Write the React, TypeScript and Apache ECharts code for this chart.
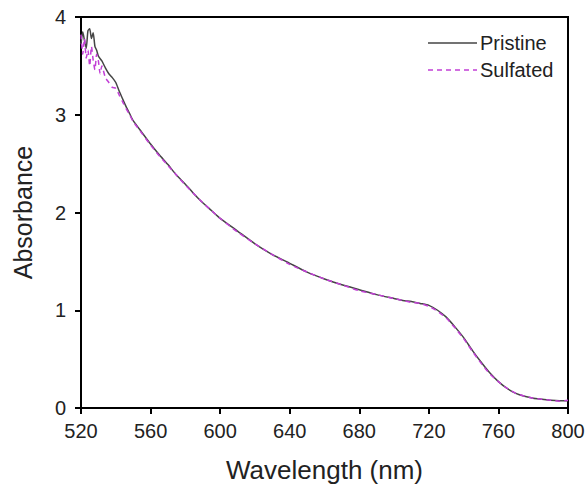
import React, { useEffect, useRef } from "react";
import * as echarts from "echarts";

const xTicks = [520, 560, 600, 640, 680, 720, 760, 800];
const yTicks = [0, 1, 2, 3, 4];

const pristineX = [520, 521, 522, 523, 524, 525, 526, 527, 528, 529, 530, 532, 534, 536, 538, 540, 542, 544, 546, 548, 550, 555, 560, 565, 570, 575, 580, 585, 590, 595, 600, 610, 620, 630, 640, 650, 660, 670, 680, 690, 700, 705, 710, 715, 720, 725, 730, 735, 740, 745, 750, 755, 760, 765, 770, 775, 780, 785, 790, 795, 800];
const pristineY = [3.72, 3.85, 3.76, 3.68, 3.86, 3.88, 3.78, 3.84, 3.7, 3.66, 3.6, 3.55, 3.48, 3.42, 3.38, 3.33, 3.24, 3.16, 3.08, 3.01, 2.94, 2.82, 2.7, 2.59, 2.49, 2.38, 2.29, 2.19, 2.1, 2.02, 1.94, 1.81, 1.68, 1.57, 1.48, 1.39, 1.32, 1.26, 1.21, 1.16, 1.12, 1.1, 1.09, 1.07, 1.05, 1.0, 0.93, 0.83, 0.72, 0.59, 0.47, 0.36, 0.27, 0.2, 0.15, 0.12, 0.1, 0.09, 0.08, 0.075, 0.075];

const sulfatedX = [520, 521, 522, 523, 524, 525, 526, 527, 528, 529, 530, 531, 532, 534, 536, 538, 540, 542, 544, 546, 548, 550, 555, 560, 565, 570, 575, 580, 585, 590, 595, 600, 610, 620, 630, 640, 650, 660, 670, 680, 690, 700, 705, 710, 715, 720, 725, 730, 735, 740, 745, 750, 755, 760, 765, 770, 775, 780, 785, 790, 795, 800];
const sulfatedY = [3.82, 3.62, 3.78, 3.58, 3.66, 3.5, 3.7, 3.56, 3.46, 3.62, 3.55, 3.42, 3.5, 3.38, 3.33, 3.28, 3.27, 3.2, 3.13, 3.06, 3.0, 2.93, 2.81, 2.69, 2.58, 2.48, 2.38, 2.28, 2.19, 2.1, 2.02, 1.94, 1.8, 1.68, 1.57, 1.47, 1.39, 1.32, 1.26, 1.2, 1.16, 1.12, 1.1, 1.08, 1.07, 1.04, 0.99, 0.92, 0.82, 0.71, 0.58, 0.46, 0.35, 0.27, 0.2, 0.15, 0.12, 0.1, 0.09, 0.08, 0.07, 0.08];

const seriesNames = ["Pristine", "Sulfated"];
const seriesColors = ["#454545", "#c23fd6"];

export default function App() {
  const ref = useRef<HTMLDivElement>(null);
  useEffect(() => {
    if (!ref.current) return;
    const chart = echarts.init(ref.current, null, { renderer: "svg" });
    const font = "'Liberation Sans', Arial, sans-serif";
    const legendRows = [43, 70];
    chart.setOption({
      animation: false,
      backgroundColor: "#fff",
      grid: {
        left: 81,
        right: 20,
        top: 17,
        bottom: 80,
        show: true,
        borderColor: "#000",
        borderWidth: 2,
        backgroundColor: "transparent",
      },
      graphic: seriesNames.flatMap((name, i) => [
        {
          type: "line",
          shape: { x1: 428, y1: legendRows[i], x2: 477, y2: legendRows[i] },
          style: { stroke: seriesColors[i], lineWidth: 1.5, lineDash: i === 1 ? [5, 4] : null },
          silent: true,
        },
        {
          type: "text",
          x: 480,
          y: legendRows[i],
          style: { text: name, font: `20px ${font}`, fill: "#222", verticalAlign: "middle", align: "left" },
          silent: true,
        },
      ]),
      xAxis: {
        type: "value",
        min: xTicks[0],
        max: xTicks[xTicks.length - 1],
        interval: 40,
        name: "Wavelength (nm)",
        nameLocation: "middle",
        nameGap: 49,
        nameTextStyle: { fontFamily: font, fontSize: 26, color: "#222" },
        axisLine: { show: true, onZero: false, lineStyle: { color: "#000", width: 2 } },
        axisTick: { show: true, length: 6, lineStyle: { color: "#000", width: 2 } },
        axisLabel: { fontFamily: font, fontSize: 20, color: "#222", margin: 13 },
        splitLine: { show: false },
      },
      yAxis: {
        type: "value",
        min: yTicks[0],
        max: yTicks[yTicks.length - 1],
        interval: 1,
        name: "Absorbance",
        nameLocation: "middle",
        nameGap: 46,
        nameTextStyle: { fontFamily: font, fontSize: 25, color: "#222" },
        axisLine: { show: true, lineStyle: { color: "#000", width: 2 } },
        axisTick: { show: true, length: 6, lineStyle: { color: "#000", width: 2 } },
        axisLabel: { fontFamily: font, fontSize: 20, color: "#222", margin: 15 },
        splitLine: { show: false },
      },
      series: [
        {
          name: seriesNames[0],
          type: "line",
          data: pristineX.map((x, i) => [x, pristineY[i]]),
          showSymbol: false,
          symbol: "none",
          smooth: 0.2,
          lineStyle: { color: seriesColors[0], width: 1.5 },
          itemStyle: { color: seriesColors[0] },
        },
        {
          name: seriesNames[1],
          type: "line",
          data: sulfatedX.map((x, i) => [x, sulfatedY[i]]),
          showSymbol: false,
          symbol: "none",
          smooth: 0.2,
          lineStyle: { color: seriesColors[1], width: 1.5, type: [5, 4] },
          itemStyle: { color: seriesColors[1] },
        },
      ],
    });
    return () => chart.dispose();
  }, []);
  return <div ref={ref} style={{ width: 588, height: 488, position: "absolute", left: 0, top: 0 }} />;
}
